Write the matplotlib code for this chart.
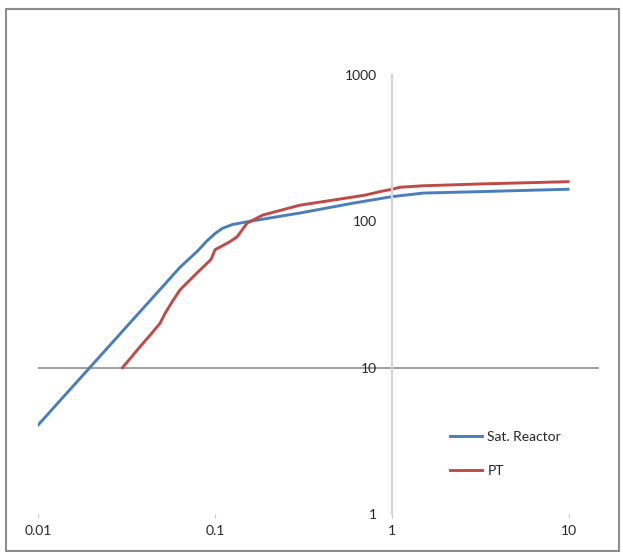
import matplotlib
matplotlib.use('Agg')
import matplotlib.pyplot as plt
from matplotlib.patches import Rectangle

plt.rcParams['font.family'] = ['Lato', 'DejaVu Sans']

# Sat. Reactor curve
sat_x = [0.01, 0.0634, 0.08, 0.09, 0.1, 0.11, 0.125, 0.15, 0.2, 0.302, 0.6,
         1.0, 1.5, 3.14, 9.87]
sat_y = [4.05, 48.5, 63.0, 73.5, 82.5, 89.5, 95.0, 99.0, 105.0, 114.0, 133.0,
         147.5, 156.0, 159.6, 165.7]

# PT curve
pt_x = [0.03, 0.0377, 0.0439, 0.0489, 0.0522, 0.0581, 0.0634, 0.08, 0.095, 0.1,
        0.12, 0.133, 0.152, 0.187, 0.302, 0.508, 0.704, 0.855, 1.0, 1.11, 1.5,
        3.14, 9.87]
pt_y = [10.0, 13.9, 17.2, 20.1, 23.5, 29.0, 34.0, 45.0, 55.0, 64.0,
        72.0, 78.2, 97.5, 110.6, 129.0, 142.0, 151.0, 159.6, 165.7, 171.0, 175.0,
        180.0, 186.7]

x_ticks = [0.01, 0.1, 1, 10]
x_labels = ['0.01', '0.1', '1', '10']
y_ticks = [1, 10, 100, 1000]
y_labels = ['1', '10', '100', '1000']

W, H = 623, 552
fig = plt.figure(figsize=(W / 100, H / 100), dpi=100)
ax = fig.add_axes([38 / W, 38 / H, (599 - 38) / W, (514 - 75) / H])

ax.plot(sat_x, sat_y, color='#4a7ebb', lw=2.1, label='Sat. Reactor')
ax.plot(pt_x, pt_y, color='#be4b48', lw=2.1, label='PT')

ax.set_xscale('log')
ax.set_yscale('log')
ax.set_xlim(0.01, 10 ** 1.169)
ax.set_ylim(1, 1000)

# vertical axis crosses at x = 1
for s in ['top', 'right', 'bottom']:
    ax.spines[s].set_visible(False)
ax.spines['left'].set_position(('data', 1))
ax.spines['left'].set_color('#d4d4d4')
ax.spines['left'].set_linewidth(1.6)
ax.axhline(10, color='#999999', lw=1.3, zorder=1)

ax.set_xticks(x_ticks)
ax.set_xticklabels(x_labels)
ax.set_yticks(y_ticks)
ax.set_yticklabels(y_labels)
ax.minorticks_off()
ax.tick_params(axis='x', direction='out', length=3, color='#c8c8c8', pad=5,
               labelsize=10, labelcolor='#262626')
ax.tick_params(axis='y', length=0, pad=11, labelsize=10, labelcolor='#262626')

leg = fig.legend(loc='center left', bbox_to_anchor=(443 / W, 1 - 454 / H),
                 frameon=False, fontsize=10, borderpad=0, handlelength=2.3,
                 handletextpad=0.4, labelspacing=1.6)
for t in leg.get_texts():
    t.set_color('#262626')

fig.patches.append(Rectangle((6 / W, 1.5 / H), (619 - 6) / W, (543.5 - 1.5) / H,
                             transform=fig.transFigure, fill=False,
                             edgecolor='#8c8c8c', lw=1.5))

fig.savefig('out.png', dpi=100)
